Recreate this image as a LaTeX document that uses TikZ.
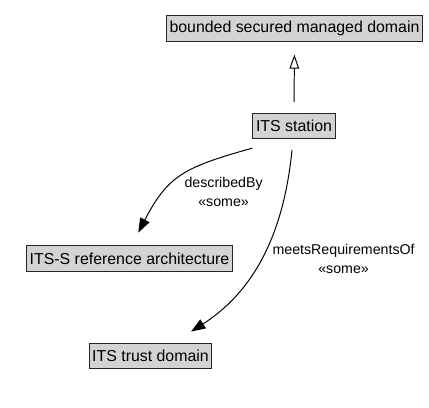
\documentclass[tikz,border=0pt]{standalone}
\usepackage{fontspec}
\setmainfont{Liberation Sans}
\usepackage{tikz}
\usetikzlibrary{arrows.meta,positioning}

\definecolor{clsfill}{RGB}{211,211,211}

\begin{document}
\begin{tikzpicture}[
        cls/.style={rectangle, draw=black!85, line width=0.7pt, fill=clsfill, minimum height=0.63cm, inner xsep=2.2pt, inner ysep=0pt, font=\fontsize{11.3}{13}\selectfont},
        inherit/.style={-{Triangle[open, length=0.35cm, width=0.24cm]}, line width=0.7pt},
        prop/.style={-{Triangle[length=0.36cm, width=0.26cm]}, line width=0.7pt},
        label/.style={align=center, font=\fontsize{10.1}{13.5}\selectfont}
    ]
    
    % Frame of the whole picture
    \useasboundingbox (0,0) rectangle (10.725,-10.175);
    
    % Classes
    \node[cls] (bsmd) at (7.3625,-0.7125) {bounded secured managed domain};
    \node[cls] (station) at (7.35,-3.15) {ITS station};
    \node[cls] (arch) at (3.2375,-6.4625) {ITS-S reference architecture};
    \node[cls] (trust) at (3.7625,-8.9) {ITS trust domain};
    
    % Property labels
    \node[label] (described_lbl) at (5.59,-4.81) {describedBy\\«some»};
    \node[label] (meets_lbl) at (8.59,-6.475) {meetsRequirementsOf\\«some»};
    
    % Arrows
    % Station is a bounded secured managed domain
    \draw[inherit, shorten <=0.275cm, shorten >=0.325cm] (station.north) -- (bsmd.south);
    
    % Station to reference architecture (describedBy)
    \draw[prop] ([shift={(0,-0.225)}]station.south west) .. controls (4.625,-4.175) and (4.2,-4.375) .. ([shift={(0.22,0.32)}]arch.north);
    
    % Station to trust domain (meetsRequirementsOf)
    \draw[prop] ([shift={(-0.05,-0.275)}]station.south) .. controls (7.15,-5.25) and (6.675,-7.075) .. ([shift={(1.0125,0.2825)}]trust.north);
    
\end{tikzpicture}
\end{document}
